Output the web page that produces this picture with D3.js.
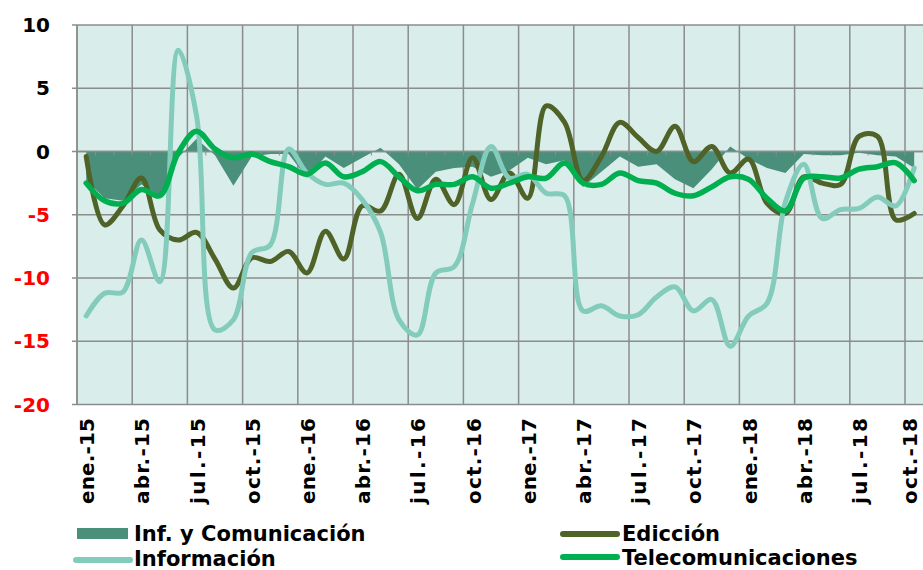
<!DOCTYPE html>
<html>
<head>
<meta charset="utf-8">
<script src="https://cdn.jsdelivr.net/npm/d3@7"></script>
<style>
  body { margin: 0; background: #fff; }
  svg { display: block; }
</style>
</head>
<body>
<div id="chart"></div>
<script>
// month labels, ene.-15 .. oct.-18
const meses = ["ene.", "feb.", "mar.", "abr.", "may.", "jun.", "jul.", "ago.", "sep.", "oct.", "nov.", "dic."];
const anios = ["15", "16", "17", "18"];
const categories = anios.flatMap(a => meses.map(m => m + "-" + a)).slice(0, 46);

// series values
const infCom = [-2.3, -3.7, -3.9, -2.6, -3.5, -0.5, 1.0, -0.3, -2.7, -0.4, -0.2, -0.2,
  -2.1, -0.4, -1.3, -0.5, 0.3, -1.0, -3.0, -1.6, -1.3, -1.2, -2.0, -1.5,
  -0.5, -1.0, -0.7, -2.8, -1.6, -0.4, -1.2, -1.0, -2.2, -2.9, -1.4, 0.4,
  -0.6, -1.3, -1.7, -0.2, -0.3, -0.3, -0.1, -0.3, -0.4, -1.3];

const edicion = [-0.4, -5.8, -4.3, -2.1, -6.2, -7.0, -6.4, -8.5, -10.8, -8.4, -8.7, -7.9,
  -9.6, -6.3, -8.5, -4.3, -4.7, -1.8, -5.3, -2.2, -4.2, -0.5, -3.8, -1.7,
  -3.7, 3.6, 2.3, -2.3, -0.4, 2.3, 1.1, 0.0, 2.0, -0.8, 0.4, -1.7,
  -0.6, -4.1, -4.9, -2.0, -2.5, -2.6, 1.2, 1.2, -5.4, -4.9];

const informacion = [-13.0, -11.2, -11.1, -7.0, -10.3, 8.0, 2.8, -14.1, -13.3, -8.0, -7.4, 0.2,
  -1.7, -2.6, -2.5, -3.8, -6.4, -13.3, -14.5, -9.6, -9.1, -4.1, 0.4, -2.1,
  -1.8, -3.3, -3.5, -12.6, -12.2, -13.0, -12.9, -11.5, -10.7, -12.6, -11.7, -15.4,
  -13.0, -12.0, -4.0, -1.0, -5.3, -4.6, -4.5, -3.6, -4.3, -1.3];

const telecom = [-2.5, -3.9, -4.1, -3.0, -3.5, -0.1, 1.6, 0.2, -0.5, -0.2, -0.8, -1.2,
  -1.8, -0.9, -2.0, -1.6, -0.8, -2.0, -3.1, -2.6, -2.6, -2.0, -2.9, -2.5,
  -2.0, -2.1, -0.9, -2.5, -2.6, -1.7, -2.3, -2.5, -3.3, -3.5, -2.8, -2.0,
  -2.2, -3.7, -4.7, -2.1, -2.0, -2.1, -1.4, -1.2, -0.9, -2.3];

const yTicks = [10, 5, 0, -5, -10, -15, -20];

const W = 923, H = 570;
const pLeft = 77, pRight = 923.4, pTop = 25, pBottom = 404.5;
const gridCol = "#8c8c8c";
const font = "'DejaVu Sans', Verdana, sans-serif";

const svg = d3.select("#chart").append("svg")
  .attr("width", W)
  .attr("height", H);

const x = d3.scaleBand().domain(categories).range([pLeft, pRight]).paddingInner(0).paddingOuter(0);
const y = d3.scaleLinear().domain([-20, 10]).range([pBottom, pTop]);
const cx = d => x(d) + x.bandwidth() / 2;

// plot background
svg.append("rect")
  .attr("x", pLeft).attr("y", pTop)
  .attr("width", pRight - pLeft).attr("height", pBottom - pTop)
  .attr("fill", "#d9eeea");

// horizontal grid
svg.append("g")
  .selectAll("line")
  .data(yTicks)
  .enter()
  .append("line")
  .attr("x1", pLeft - 5).attr("x2", pRight)
  .attr("y1", d => y(d)).attr("y2", d => y(d))
  .attr("stroke", gridCol).attr("stroke-width", 1.5);

// vertical grid every 3 months
const gridCats = categories.filter((c, i) => i % 3 === 0);
svg.append("g")
  .selectAll("line")
  .data(gridCats)
  .enter()
  .append("line")
  .attr("x1", d => x(d)).attr("x2", d => x(d))
  .attr("y1", pTop).attr("y2", pBottom)
  .attr("stroke", gridCol).attr("stroke-width", 1.5);

// Inf. y Comunicación area
const area = d3.area()
  .x((d, i) => cx(categories[i]))
  .y0(y(0))
  .y1(d => y(d));

svg.append("path")
  .datum(infCom)
  .attr("d", area)
  .attr("fill", "#4a8f7a");

// zero axis with month ticks
svg.append("line")
  .attr("x1", pLeft).attr("x2", pRight)
  .attr("y1", y(0)).attr("y2", y(0))
  .attr("stroke", gridCol).attr("stroke-width", 1.5);

svg.append("g")
  .selectAll("line")
  .data(categories)
  .enter()
  .append("line")
  .attr("x1", d => x(d)).attr("x2", d => x(d))
  .attr("y1", y(0)).attr("y2", y(0) + 4)
  .attr("stroke", gridCol).attr("stroke-width", 1);

// smoothed lines
const line = d3.line()
  .x((d, i) => cx(categories[i]))
  .y(d => y(d))
  .curve(d3.curveCatmullRom);

const series = [
  { name: "Edicción", values: edicion, color: "#4f6228", w: 5 },
  { name: "Información", values: informacion, color: "#83cbbb", w: 5 },
  { name: "Telecomunicaciones", values: telecom, color: "#00b050", w: 5.5 }
];

series.forEach(s => {
  svg.append("path")
    .datum(s.values)
    .attr("d", line)
    .attr("fill", "none")
    .attr("stroke", s.color)
    .attr("stroke-width", s.w)
    .attr("stroke-linejoin", "round")
    .attr("stroke-linecap", "round");
});

// left axis line
svg.append("line")
  .attr("x1", pLeft).attr("x2", pLeft)
  .attr("y1", pTop).attr("y2", pBottom)
  .attr("stroke", gridCol).attr("stroke-width", 1.5);

// y labels
svg.append("g")
  .selectAll("text")
  .data(yTicks)
  .enter()
  .append("text")
  .attr("x", 50)
  .attr("y", d => y(d))
  .attr("dy", "0.36em")
  .attr("text-anchor", "end")
  .style("font-family", font)
  .style("font-weight", "bold")
  .style("font-size", "20px")
  .attr("fill", d => d < 0 ? "#ff0000" : "#000")
  .text(d => d);

// x labels rotated (last one nudged in so it stays inside the picture)
svg.append("g")
  .selectAll("text")
  .data(gridCats)
  .enter()
  .append("text")
  .attr("transform", d => `translate(${Math.min(cx(d) + 8, 917)},418)rotate(-90)`)
  .attr("text-anchor", "end")
  .attr("textLength", 86)
  .attr("lengthAdjust", "spacing")
  .style("font-family", font)
  .style("font-weight", "bold")
  .style("font-size", "20px")
  .attr("fill", "#000")
  .text(d => d);

// legend
const leg = [
  { name: "Inf. y Comunicación", type: "rect", color: "#4a8f7a", lx: 77, ly: 533.5, tx: 134, ty: 541 },
  { name: "Edicción", type: "line", color: "#4f6228", lx: 563, ly: 534, tx: 622, ty: 541 },
  { name: "Información", type: "line", color: "#83cbbb", lx: 76, ly: 560, tx: 134, ty: 566 },
  { name: "Telecomunicaciones", type: "line", color: "#00b050", lx: 563, ly: 557, tx: 622, ty: 565 }
];

leg.forEach(l => {
  if (l.type === "rect") {
    svg.append("rect")
      .attr("x", l.lx).attr("y", l.ly - 5.5)
      .attr("width", 51).attr("height", 11)
      .attr("fill", l.color);
  } else {
    svg.append("line")
      .attr("x1", l.lx).attr("x2", l.lx + 54)
      .attr("y1", l.ly).attr("y2", l.ly)
      .attr("stroke", l.color).attr("stroke-width", 6)
      .attr("stroke-linecap", "round");
  }
  svg.append("text")
    .attr("x", l.tx).attr("y", l.ty)
    .style("font-family", font)
    .style("font-weight", "bold")
    .style("font-size", "21px")
    .attr("fill", "#000")
    .text(l.name);
});
</script>
</body>
</html>
